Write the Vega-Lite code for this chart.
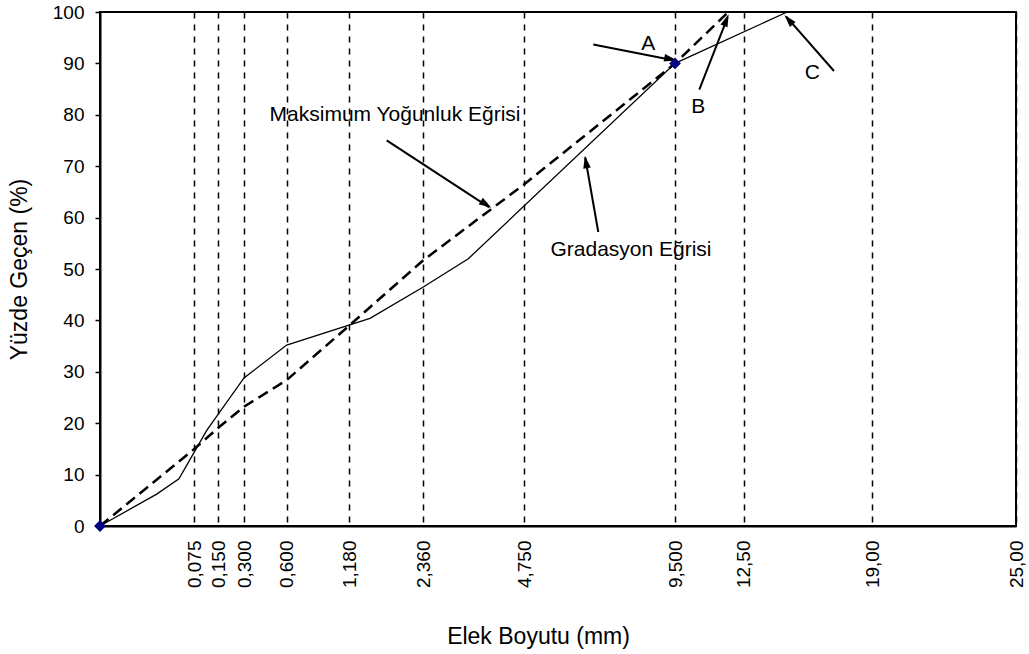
{
  "$schema": "https://vega.github.io/schema/vega-lite/v6.json",
  "width": 916,
  "height": 514,
  "autosize": {"type": "none"},
  "padding": {"left": 100, "top": 12, "right": 13, "bottom": 128},
  "background": "white",
  "config": {
    "view": {"stroke": "black", "strokeWidth": 2},
    "font": "Liberation Sans"
  },
  "datasets": {
    "grad": [
      {"x": 0, "y": 0},
      {"x": 0.0451, "y": 6.2},
      {"x": 0.0628, "y": 9.2},
      {"x": 0.1138, "y": 18.6},
      {"x": 0.3, "y": 28.8},
      {"x": 0.6, "y": 35.2},
      {"x": 1.51, "y": 40.4},
      {"x": 2.36, "y": 46.5},
      {"x": 3.425, "y": 52.0},
      {"x": 9.5, "y": 90},
      {"x": 14.7, "y": 100}
    ],
    "maks": [
      {"x": 0, "y": 0},
      {"x": 0.075, "y": 15.0},
      {"x": 0.15, "y": 19.1},
      {"x": 0.3, "y": 23.2},
      {"x": 0.6, "y": 28.4},
      {"x": 1.18, "y": 39.0},
      {"x": 2.36, "y": 51.7},
      {"x": 4.75, "y": 66.5},
      {"x": 9.5, "y": 90},
      {"x": 11.83, "y": 100}
    ],
    "pts": [
      {"x": 0, "y": 0},
      {"x": 9.5, "y": 90}
    ],
    "arrows": [
      {"name": "A", "x": 6.925, "y": 93.66, "xe": 9.45, "ye": 90.6},
      {"name": "B", "x": 10.561, "y": 84.9, "xe": 11.8, "ye": 99.0},
      {"name": "C", "x": 17.064, "y": 88.52, "xe": 14.65, "ye": 99.1},
      {"name": "Maks", "x": 1.776, "y": 75.04, "xe": 3.92, "ye": 62.0},
      {"name": "Grad", "x": 7.082, "y": 57.2, "xe": 6.67, "ye": 71.7}
    ],
    "heads": [
      {"name": "A", "x": 9.32, "y": 90.9, "ang": 100.9},
      {"name": "B", "x": 11.72, "y": 98.2, "ang": 21.3},
      {"name": "C", "x": 14.81, "y": 98.3, "ang": -41.3},
      {"name": "Maks", "x": 3.82, "y": 62.7, "ang": 123.1},
      {"name": "Grad", "x": 6.70, "y": 70.6, "ang": -9.8}
    ],
    "labels": [
      {"label": "A", "x": 8.658, "y": 93.85},
      {"label": "B", "x": 10.517, "y": 81.52},
      {"label": "C", "x": 15.967, "y": 88.13},
      {"label": "Maksimum Yoğunluk Eğrisi", "x": 1.909, "y": 79.9},
      {"label": "Gradasyon Eğrisi", "x": 8.113, "y": 53.64}
    ]
  },
  "encoding": {
    "x": {
      "field": "x",
      "type": "quantitative",
      "scale": {
        "type": "linear",
        "domain": [0, 0.075, 0.15, 0.3, 0.6, 1.18, 2.36, 4.75, 9.5, 12.5, 19, 25],
        "range": [0, 94.3, 118.3, 144, 186.7, 249.3, 323.3, 424.3, 575, 643.7, 772.3, 916],
        "nice": false,
        "zero": false
      },
      "axis": {
        "title": "Elek Boyutu (mm)",
        "values": [0.075, 0.15, 0.3, 0.6, 1.18, 2.36, 4.75, 9.5, 12.5, 19, 25],
        "labelExpr": "replace(datum.value < 10 ? format(datum.value, '.3f') : format(datum.value, '.2f'), '.', ',')",
        "labelAngle": -90,
        "labelFontSize": 19,
        "labelPadding": 14,
        "labelColor": "black",
        "labelFlush": false,
        "labelOverlap": false,
        "labelBound": false,
        "ticks": false,
        "tickSize": 0,
        "grid": true,
        "gridColor": "black",
        "gridDash": [6, 6],
        "gridWidth": 1.5,
        "gridOpacity": 1,
        "domainColor": "black",
        "domainWidth": 2,
        "titleFontSize": 23,
        "titleFontWeight": "normal",
        "titleColor": "black",
        "titleX": 438,
        "titleAlign": "center",
        "titleY": 117,
        "titleBaseline": "alphabetic"
      }
    },
    "y": {
      "field": "y",
      "type": "quantitative",
      "scale": {"domain": [0, 100], "nice": false, "zero": true},
      "axis": {
        "title": "Yüzde Geçen (%)",
        "values": [0, 10, 20, 30, 40, 50, 60, 70, 80, 90, 100],
        "tickSize": 5,
        "tickColor": "black",
        "tickWidth": 1.5,
        "labelFontSize": 19,
        "labelPadding": 11,
        "labelColor": "black",
        "grid": false,
        "domainColor": "black",
        "domainWidth": 2,
        "titleFontSize": 23,
        "titleFontWeight": "normal",
        "titleColor": "black",
        "titleX": -81,
        "titleY": 257,
        "titleAngle": -90,
        "titleAlign": "center",
        "titleBaseline": "middle"
      }
    }
  },
  "layer": [
    {
      "data": {"name": "maks"},
      "mark": {"type": "line", "color": "black", "strokeWidth": 2.5, "strokeDash": [11, 6]}
    },
    {
      "data": {"name": "grad"},
      "mark": {"type": "line", "color": "black", "strokeWidth": 1.3}
    },
    {
      "data": {"name": "arrows"},
      "mark": {"type": "rule", "color": "black", "strokeWidth": 2},
      "encoding": {
        "x2": {"field": "xe"},
        "y2": {"field": "ye"}
      }
    },
    {
      "data": {"name": "heads"},
      "mark": {"type": "point", "shape": "M0,-1.2L0.6,0.8L-0.6,0.8Z", "filled": true, "color": "black", "opacity": 1, "size": 160, "strokeWidth": 0},
      "encoding": {
        "angle": {"field": "ang", "type": "quantitative", "scale": null}
      }
    },
    {
      "data": {"name": "pts"},
      "mark": {"type": "point", "shape": "diamond", "filled": true, "color": "#000080", "opacity": 1, "size": 140, "clip": false}
    },
    {
      "data": {"name": "labels"},
      "mark": {"type": "text", "font": "Liberation Sans", "fontSize": 21, "color": "black", "align": "center", "baseline": "middle"},
      "encoding": {
        "text": {"field": "label"}
      }
    }
  ]
}
